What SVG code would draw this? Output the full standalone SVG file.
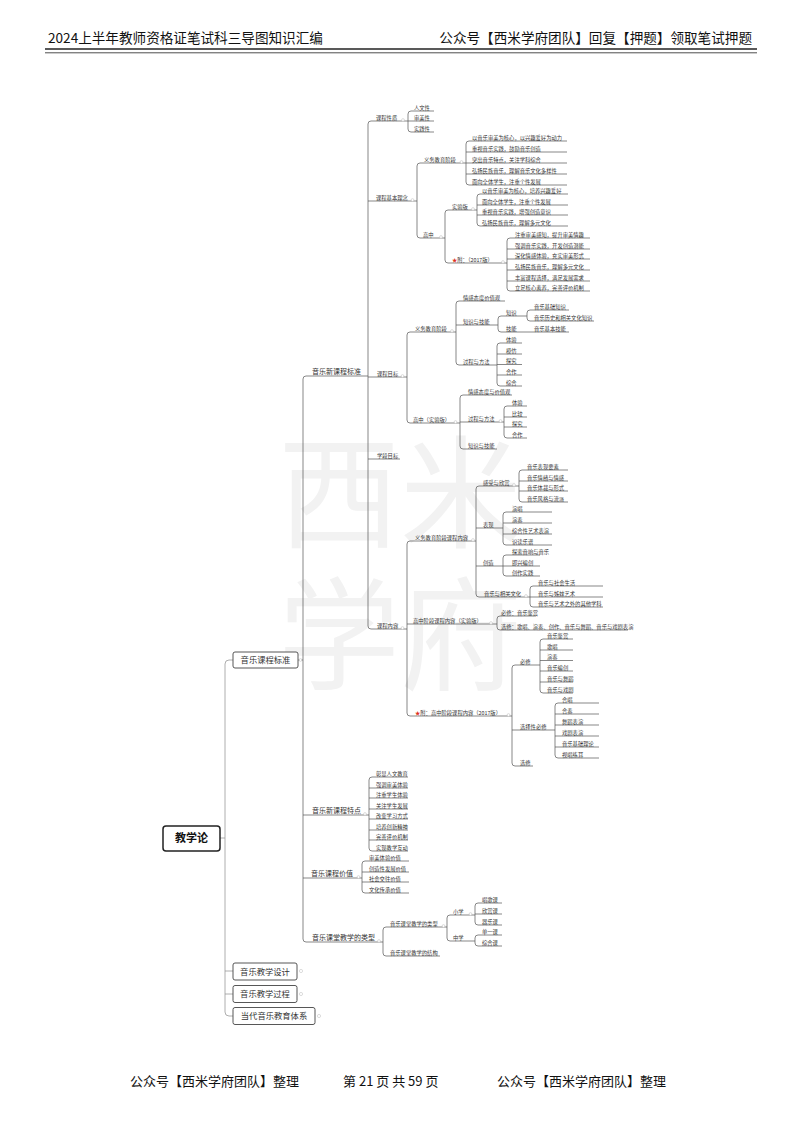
<svg xmlns="http://www.w3.org/2000/svg" width="800" height="1131" viewBox="0 0 800 1131">
<style>
text{font-family:"Noto Sans CJK SC","Noto Sans",sans-serif;fill:#333}
.t{font-size:5.3px}
.m{font-size:7px}
.b{font-size:8.3px;text-anchor:middle}
.r{font-size:11px;font-weight:bold;text-anchor:middle;fill:#111}
.h{font-size:13.6px;fill:#111}
.f{font-size:13px;fill:#111}
.w{font-size:122px;fill:#f2f2f2}
.u{stroke:#555;stroke-width:.7;fill:none}
.g{stroke:#999;stroke-width:.8;fill:none}
.k{fill:#fff;stroke:#bbb;stroke-width:.5}
.box{fill:#fff;stroke:#444;stroke-width:.9}
.star{fill:#e03020}
</style>
<rect width="800" height="1131" fill="#fff"/>
<!-- watermark -->
<g id="watermark">
<text class="w" x="278" y="538">西米</text>
<text class="w" x="278" y="680">学府</text>
</g>
<!-- header / footer -->
<g id="header">
<text class="h" x="48" y="43">2024上半年教师资格证笔试科三导图知识汇编</text>
<text class="h" x="752" y="43" text-anchor="end">公众号【西米学府团队】回复【押题】领取笔试押题</text>
<line x1="45" y1="49" x2="757" y2="49" stroke="#222" stroke-width="1.6"/>
<line x1="45" y1="52.8" x2="757" y2="52.8" stroke="#222" stroke-width=".8"/>
</g>
<g id="footer">
<text class="f" x="130" y="1086">公众号【西米学府团队】整理</text>
<text class="f" x="343" y="1086">第 21 页 共 59 页</text>
<text class="f" x="497" y="1086">公众号【西米学府团队】整理</text>
</g>

<!-- connectors -->
<g id="connectors">
<path class="g" d="M220 838 H225 M229 660 Q225 660 225 664 V1012 Q225 1016 229 1016 M229 660 H233 M225 971 H233 M225 994 H233 M229 1016 H233"/>
<path class="u" d="M298 660 H303 M306 376 Q303 376 303 379 V939 Q303 942 306 942"/>
<path class="u" d="M371 121 Q368 121 368 124 V626 Q368 629 371 629"/>
<path class="u" d="M399 121 H408 M411 111 Q408 111 408 114 V129 Q408 132 411 132"/>
<path class="u" d="M408 201 H417 M420 163 Q417 163 417 166 V235 Q417 238 420 238"/>
<path class="u" d="M458 163 H466 M469 141 Q466 141 466 144 V182 Q466 185 469 185"/>
<path class="u" d="M437 238 H445 M448 210 Q445 210 445 213 V260 Q445 263 448 263"/>
<path class="u" d="M469 210 H477 M480 194 Q477 194 477 197 V223 Q477 226 480 226"/>
<path class="u" d="M499 263 H507 M510 238 Q507 238 507 241 V288 Q507 291 510 291"/>
<path class="u" d="M398 377 H407 M410 332 Q407 332 407 335 V420 Q407 423 410 423"/>
<path class="u" d="M448 332 H456 M459 301 Q456 301 456 304 V362 Q456 365 459 365"/>
<path class="u" d="M492 325 H498 M501 316 Q498 316 498 319 V329 Q498 332 501 332"/>
<path class="u" d="M518 316 H527 M530 310 Q527 310 527 313 V318 Q527 321 530 321 M518 332 H534"/>
<path class="u" d="M492 365 H497 M500 343 Q497 343 497 346 V383 Q497 386 500 386"/>
<path class="u" d="M451 423 H460 M463 395 Q460 395 460 398 V446 Q460 449 463 449"/>
<path class="u" d="M497 422 H504 M507 406 Q504 406 504 409 V435 Q504 438 507 438"/>
<path class="u" d="M398 629 H407 M410 541 Q407 541 407 544 V713 Q407 716 410 716"/>
<path class="u" d="M470 541 H476 M479 486 Q476 486 476 489 V594 Q476 597 479 597"/>
<path class="u" d="M510 486 H519 M522 470 Q519 470 519 473 V499 Q519 502 522 502"/>
<path class="u" d="M496 528 H503 M506 512 Q503 512 503 515 V542 Q503 545 506 545"/>
<path class="u" d="M496 566 H503 M506 555 Q503 555 503 558 V573 Q503 576 506 576"/>
<path class="u" d="M522 597 H530 M533 586 Q530 586 530 589 V604 Q530 607 533 607"/>
<path class="u" d="M487 624 H497 M500 616 Q497 616 497 619 V627 Q497 630 500 630"/>
<path class="u" d="M505 716 H512 M515 665 Q512 665 512 668 V763 Q512 766 515 766"/>
<path class="u" d="M533 665 H540 M543 639 Q540 639 540 642 V690 Q540 693 543 693"/>
<path class="u" d="M548 730 H555 M558 703 Q555 703 555 706 V755 Q555 758 558 758"/>
<path class="u" d="M361 815 H369 M372 777 Q369 777 369 780 V848 Q369 851 372 851"/>
<path class="u" d="M355 878 H362 M365 861 Q362 861 362 864 V890 Q362 893 365 893"/>
<path class="u" d="M375 942 H383 M386 927 Q383 927 383 930 V953 Q383 956 386 956"/>
<path class="u" d="M440 927 H447 M450 915 Q447 915 447 918 V938 Q447 941 450 941"/>
<path class="u" d="M466 915 H475 M478 903 Q475 903 475 906 V922 Q475 925 478 925"/>
<path class="u" d="M466 941 H475 M478 935 Q475 935 475 938 V943 Q475 946 478 946"/>
</g>

<!-- root and level 1 -->
<g id="n-root"><rect x="163" y="826" width="57" height="25" rx="3" fill="#fff" stroke="#222" stroke-width="1.5"/><text class="r" x="191.5" y="842">教学论</text></g>
<g id="n-kcbz"><rect class="box" x="233" y="652" width="65" height="16" rx="2"/><text class="b" x="265.5" y="663">音乐课程标准</text></g>
<g id="n-jxsj"><rect class="box" x="233" y="963" width="64" height="17" rx="2"/><text class="b" x="265" y="974.5">音乐教学设计</text></g>
<g id="n-jxgc"><rect class="box" x="233" y="985.5" width="64" height="17" rx="2"/><text class="b" x="265" y="997">音乐教学过程</text></g>
<g id="n-jytx"><rect class="box" x="233" y="1007.5" width="82" height="17" rx="2"/><text class="b" x="274" y="1019">当代音乐教育体系</text></g>

<!-- level 2 -->
<g id="n-xkcbz"><path class="u" d="M306 376 H368"/><text class="m" x="312" y="374.2">音乐新课程标准</text></g>
<g id="n-xkctd"><path class="u" d="M303 815 H361"/><text class="m" x="312" y="813.2">音乐新课程特点</text></g>
<g id="n-kcjz"><path class="u" d="M303 878 H355"/><text class="m" x="311" y="876.2">音乐课程价值</text></g>
<g id="n-ktlx"><path class="u" d="M306 942 H375"/><text class="m" x="312" y="940.2">音乐课堂教学的类型</text></g>

<!-- 课程性质 -->
<g id="n-kcxz"><path class="u" d="M371 121 H399"/><text class="t" x="376" y="119.6">课程性质</text></g>
<g id="n-rwx"><path class="u" d="M411 111 H434"/><text class="t" x="414" y="109.6">人文性</text></g>
<g id="n-smx"><path class="u" d="M408 121 H434"/><text class="t" x="414" y="119.6">审美性</text></g>
<g id="n-sjx"><path class="u" d="M411 132 H434"/><text class="t" x="414" y="130.6">实践性</text></g>

<!-- 课程基本理念 -->
<g id="n-jbln"><path class="u" d="M368 201 H408"/><text class="t" x="376" y="199.6">课程基本理念</text></g>
<g id="n-ln-yw"><path class="u" d="M420 163 H458"/><text class="t" x="424" y="161.6">义务教育阶段</text></g>
<g id="n-ln-yw1"><path class="u" d="M469 141 H567"/><text class="t" x="472" y="139.6">以音乐审美为核心，以兴趣爱好为动力</text></g>
<g id="n-ln-yw2"><path class="u" d="M466 152 H567"/><text class="t" x="472" y="150.6">重视音乐实践，鼓励音乐创造</text></g>
<g id="n-ln-yw3"><path class="u" d="M466 163 H567"/><text class="t" x="472" y="161.6">突出音乐特点，关注学科综合</text></g>
<g id="n-ln-yw4"><path class="u" d="M466 174 H567"/><text class="t" x="472" y="172.6">弘扬民族音乐，理解音乐文化多样性</text></g>
<g id="n-ln-yw5"><path class="u" d="M469 185 H567"/><text class="t" x="472" y="183.6">面向全体学生，注重个性发展</text></g>
<g id="n-ln-gz"><path class="u" d="M420 238 H437"/><text class="t" x="423" y="236.6">高中</text></g>
<g id="n-ln-syb"><path class="u" d="M448 210 H469"/><text class="t" x="452" y="208.6">实验版</text></g>
<g id="n-ln-s1"><path class="u" d="M480 194 H568"/><text class="t" x="482" y="192.6">以音乐审美为核心，培养兴趣爱好</text></g>
<g id="n-ln-s2"><path class="u" d="M477 205 H568"/><text class="t" x="482" y="203.6">面向全体学生，注重个性发展</text></g>
<g id="n-ln-s3"><path class="u" d="M477 215 H568"/><text class="t" x="482" y="213.6">重视音乐实践，增强创造意识</text></g>
<g id="n-ln-s4"><path class="u" d="M480 226 H568"/><text class="t" x="482" y="224.6">弘扬民族音乐，理解多元文化</text></g>
<g id="n-ln-2017"><path class="u" d="M448 263 H499"/><text class="t" x="452" y="261.6"><tspan class="star">★</tspan>附：（2017版）</text></g>
<g id="n-ln-n1"><path class="u" d="M510 238 H590"/><text class="t" x="515" y="236.6">注重审美感知，提升审美情趣</text></g>
<g id="n-ln-n2"><path class="u" d="M507 249 H590"/><text class="t" x="515" y="247.6">强调音乐实践，开发创造潜能</text></g>
<g id="n-ln-n3"><path class="u" d="M507 259 H590"/><text class="t" x="515" y="257.6">深化情感体验，充实审美形式</text></g>
<g id="n-ln-n4"><path class="u" d="M507 270 H590"/><text class="t" x="515" y="268.6">弘扬民族音乐，理解多元文化</text></g>
<g id="n-ln-n5"><path class="u" d="M507 281 H590"/><text class="t" x="515" y="279.6">丰富课程选择，满足发展需求</text></g>
<g id="n-ln-n6"><path class="u" d="M510 291 H590"/><text class="t" x="515" y="289.6">立足核心素养，完善评价机制</text></g>

<!-- 课程目标 -->
<g id="n-kcmb"><path class="u" d="M368 377 H398"/><text class="t" x="377" y="375.6">课程目标</text></g>
<g id="n-mb-yw"><path class="u" d="M410 332 H448"/><text class="t" x="415" y="330.6">义务教育阶段</text></g>
<g id="n-mb-qg"><path class="u" d="M459 301 H505"/><text class="t" x="463" y="299.6">情感态度价值观</text></g>
<g id="n-mb-zj"><path class="u" d="M456 325 H492"/><text class="t" x="463" y="323.6">知识与技能</text></g>
<g id="n-mb-zs"><path class="u" d="M501 316 H518"/><text class="t" x="506" y="314.6">知识</text></g>
<g id="n-mb-zs1"><path class="u" d="M530 310 H569"/><text class="t" x="534" y="308.6">音乐基础知识</text></g>
<g id="n-mb-zs2"><path class="u" d="M530 321 H594"/><text class="t" x="534" y="319.6">音乐历史和相关文化知识</text></g>
<g id="n-mb-jn"><path class="u" d="M501 332 H518"/><text class="t" x="506" y="330.6">技能</text></g>
<g id="n-mb-jn1"><path class="u" d="M534 332 H569"/><text class="t" x="534" y="330.6">音乐基本技能</text></g>
<g id="n-mb-gc"><path class="u" d="M459 365 H492"/><text class="t" x="463" y="363.6">过程与方法</text></g>
<g id="n-mb-gc1"><path class="u" d="M500 343 H522"/><text class="t" x="506" y="341.6">体验</text></g>
<g id="n-mb-gc2"><path class="u" d="M497 354 H522"/><text class="t" x="506" y="352.6">模仿</text></g>
<g id="n-mb-gc3"><path class="u" d="M497 364.5 H522"/><text class="t" x="506" y="363.1">探究</text></g>
<g id="n-mb-gc4"><path class="u" d="M497 375 H522"/><text class="t" x="506" y="373.6">合作</text></g>
<g id="n-mb-gc5"><path class="u" d="M500 386 H522"/><text class="t" x="506" y="384.6">综合</text></g>
<g id="n-mb-gz"><path class="u" d="M410 423 H451"/><text class="t" x="413" y="421.6">高中（实验版）</text></g>
<g id="n-mb-gz1"><path class="u" d="M463 395 H512"/><text class="t" x="468" y="393.6">情感态度与价值观</text></g>
<g id="n-mb-gz2"><path class="u" d="M460 422 H497"/><text class="t" x="468" y="420.6">过程与方法</text></g>
<g id="n-mb-g1"><path class="u" d="M507 406 H527"/><text class="t" x="512" y="404.6">体验</text></g>
<g id="n-mb-g2"><path class="u" d="M504 417 H527"/><text class="t" x="512" y="415.6">比较</text></g>
<g id="n-mb-g3"><path class="u" d="M504 427 H527"/><text class="t" x="512" y="425.6">探究</text></g>
<g id="n-mb-g4"><path class="u" d="M507 438 H527"/><text class="t" x="512" y="436.6">合作</text></g>
<g id="n-mb-gz3"><path class="u" d="M463 449 H497"/><text class="t" x="468" y="447.6">知识与技能</text></g>

<!-- 学段目标 -->
<g id="n-xdmb"><path class="u" d="M368 459 H400"/><text class="t" x="377" y="457.6">学段目标</text></g>

<!-- 课程内容 -->
<g id="n-kcnr"><path class="u" d="M371 629 H398"/><text class="t" x="377" y="627.6">课程内容</text></g>
<g id="n-nr-yw"><path class="u" d="M410 541 H470"/><text class="t" x="415" y="539.6">义务教育阶段课程内容</text></g>
<g id="n-nr-gs"><path class="u" d="M479 486 H510"/><text class="t" x="483" y="484.6">感受与欣赏</text></g>
<g id="n-nr-gs1"><path class="u" d="M522 470 H568"/><text class="t" x="527" y="468.6">音乐表现要素</text></g>
<g id="n-nr-gs2"><path class="u" d="M519 481 H568"/><text class="t" x="527" y="479.6">音乐情绪与情感</text></g>
<g id="n-nr-gs3"><path class="u" d="M519 491 H568"/><text class="t" x="527" y="489.6">音乐体裁与形式</text></g>
<g id="n-nr-gs4"><path class="u" d="M522 502 H568"/><text class="t" x="527" y="500.6">音乐风格与流派</text></g>
<g id="n-nr-bx"><path class="u" d="M476 528 H496"/><text class="t" x="483" y="526.6">表现</text></g>
<g id="n-nr-bx1"><path class="u" d="M506 512 H552"/><text class="t" x="512" y="510.6">演唱</text></g>
<g id="n-nr-bx2"><path class="u" d="M503 523 H552"/><text class="t" x="512" y="521.6">演奏</text></g>
<g id="n-nr-bx3"><path class="u" d="M503 534 H552"/><text class="t" x="512" y="532.6">综合性艺术表演</text></g>
<g id="n-nr-bx4"><path class="u" d="M506 545 H552"/><text class="t" x="512" y="543.6">识读乐谱</text></g>
<g id="n-nr-cz"><path class="u" d="M476 566 H496"/><text class="t" x="483" y="564.6">创造</text></g>
<g id="n-nr-cz1"><path class="u" d="M506 555 H540"/><text class="t" x="512" y="553.6">探索音响与音乐</text></g>
<g id="n-nr-cz2"><path class="u" d="M503 566 H540"/><text class="t" x="512" y="564.6">即兴编创</text></g>
<g id="n-nr-cz3"><path class="u" d="M506 576 H540"/><text class="t" x="512" y="574.6">创作实践</text></g>
<g id="n-nr-wh"><path class="u" d="M479 597 H522"/><text class="t" x="484" y="595.6">音乐与相关文化</text></g>
<g id="n-nr-wh1"><path class="u" d="M533 586 H603"/><text class="t" x="538" y="584.6">音乐与社会生活</text></g>
<g id="n-nr-wh2"><path class="u" d="M530 597 H603"/><text class="t" x="538" y="595.6">音乐与姊妹艺术</text></g>
<g id="n-nr-wh3"><path class="u" d="M533 607 H603"/><text class="t" x="538" y="605.6">音乐与艺术之外的其他学科</text></g>
<g id="n-nr-gz"><path class="u" d="M407 624 H487"/><text class="t" x="413" y="622.6">高中阶段课程内容（实验版）</text></g>
<g id="n-nr-gz1"><path class="u" d="M500 616 H536"/><text class="t" x="501" y="614.6">必修：音乐鉴赏</text></g>
<g id="n-nr-gz2"><path class="u" d="M500 630 H628"/><text class="t" x="501" y="628.6">选修：歌唱、演奏、创作、音乐与舞蹈、音乐与戏剧表演</text></g>
<g id="n-nr-2017"><path class="u" d="M410 716 H505"/><text class="t" x="415" y="714.6"><tspan class="star">★</tspan>附：高中阶段课程内容（2017版）</text></g>
<g id="n-nr-bxiu"><path class="u" d="M515 665 H533"/><text class="t" x="520" y="663.6">必修</text></g>
<g id="n-nr-b1"><path class="u" d="M543 639 H573"/><text class="t" x="547" y="637.6">音乐鉴赏</text></g>
<g id="n-nr-b2"><path class="u" d="M540 650 H573"/><text class="t" x="547" y="648.6">歌唱</text></g>
<g id="n-nr-b3"><path class="u" d="M540 660.5 H573"/><text class="t" x="547" y="659.1">演奏</text></g>
<g id="n-nr-b4"><path class="u" d="M540 671 H573"/><text class="t" x="547" y="669.6">音乐编创</text></g>
<g id="n-nr-b5"><path class="u" d="M540 682 H573"/><text class="t" x="547" y="680.6">音乐与舞蹈</text></g>
<g id="n-nr-b6"><path class="u" d="M543 693 H573"/><text class="t" x="547" y="691.6">音乐与戏剧</text></g>
<g id="n-nr-xzbx"><path class="u" d="M512 730 H548"/><text class="t" x="520" y="728.6">选择性必修</text></g>
<g id="n-nr-x1"><path class="u" d="M558 703 H599"/><text class="t" x="562" y="701.6">合唱</text></g>
<g id="n-nr-x2"><path class="u" d="M555 714 H599"/><text class="t" x="562" y="712.6">合奏</text></g>
<g id="n-nr-x3"><path class="u" d="M555 725 H599"/><text class="t" x="562" y="723.6">舞蹈表演</text></g>
<g id="n-nr-x4"><path class="u" d="M555 736 H599"/><text class="t" x="562" y="734.6">戏剧表演</text></g>
<g id="n-nr-x5"><path class="u" d="M555 747 H599"/><text class="t" x="562" y="745.6">音乐基础理论</text></g>
<g id="n-nr-x6"><path class="u" d="M558 758 H599"/><text class="t" x="562" y="756.6">视唱练耳</text></g>
<g id="n-nr-xx"><path class="u" d="M515 766 H533"/><text class="t" x="520" y="764.6">选修</text></g>

<!-- 音乐新课程特点 -->
<g id="n-td1"><path class="u" d="M372 777 H408"/><text class="t" x="376" y="775.6">彰显人文教育</text></g>
<g id="n-td2"><path class="u" d="M369 788 H408"/><text class="t" x="376" y="786.6">强调审美体验</text></g>
<g id="n-td3"><path class="u" d="M369 798 H408"/><text class="t" x="376" y="796.6">注重学生体验</text></g>
<g id="n-td4"><path class="u" d="M369 809 H408"/><text class="t" x="376" y="807.6">关注学生发展</text></g>
<g id="n-td5"><path class="u" d="M369 819 H408"/><text class="t" x="376" y="817.6">改变学习方式</text></g>
<g id="n-td6"><path class="u" d="M369 830 H408"/><text class="t" x="376" y="828.6">培养创新精神</text></g>
<g id="n-td7"><path class="u" d="M369 840 H408"/><text class="t" x="376" y="838.6">完善评价机制</text></g>
<g id="n-td8"><path class="u" d="M372 851 H408"/><text class="t" x="376" y="849.6">实现教学互动</text></g>

<!-- 音乐课程价值 -->
<g id="n-jz1"><path class="u" d="M365 861 H409"/><text class="t" x="369" y="859.6">审美体验价值</text></g>
<g id="n-jz2"><path class="u" d="M362 872 H409"/><text class="t" x="369" y="870.6">创造性发展价值</text></g>
<g id="n-jz3"><path class="u" d="M362 882 H409"/><text class="t" x="369" y="880.6">社会交往价值</text></g>
<g id="n-jz4"><path class="u" d="M365 893 H409"/><text class="t" x="369" y="891.6">文化传承价值</text></g>

<!-- 音乐课堂教学的类型 -->
<g id="n-lx1"><path class="u" d="M386 927 H440"/><text class="t" x="390" y="925.6">音乐课堂教学的类型</text></g>
<g id="n-lx2"><path class="u" d="M386 956 H440"/><text class="t" x="390" y="954.6">音乐课堂教学的结构</text></g>
<g id="n-xx"><path class="u" d="M450 915 H466"/><text class="t" x="453" y="913.6">小学</text></g>
<g id="n-xx1"><path class="u" d="M478 903 H502"/><text class="t" x="482" y="901.6">唱歌课</text></g>
<g id="n-xx2"><path class="u" d="M475 914 H502"/><text class="t" x="482" y="912.6">欣赏课</text></g>
<g id="n-xx3"><path class="u" d="M478 925 H502"/><text class="t" x="482" y="923.6">器乐课</text></g>
<g id="n-zx"><path class="u" d="M450 941 H466"/><text class="t" x="453" y="939.6">中学</text></g>
<g id="n-zx1"><path class="u" d="M478 935 H502"/><text class="t" x="482" y="933.6">单一课</text></g>
<g id="n-zx2"><path class="u" d="M478 946 H502"/><text class="t" x="482" y="944.6">综合课</text></g>

<!-- collapse markers -->
<g id="markers">
<circle class="k" cx="301" cy="971" r="1.6"/><circle class="k" cx="301" cy="994" r="1.6"/><circle class="k" cx="319" cy="1016" r="1.6"/><circle class="k" cx="300.5" cy="660" r="1.4"/>
<circle class="k" cx="403" cy="120" r="1.4"/><circle class="k" cx="412.5" cy="200" r="1.4"/><circle class="k" cx="461.5" cy="162" r="1.4"/><circle class="k" cx="441" cy="237" r="1.4"/>
<circle class="k" cx="473" cy="209" r="1.4"/><circle class="k" cx="503" cy="262" r="1.4"/><circle class="k" cx="402.5" cy="376" r="1.4"/><circle class="k" cx="452" cy="331" r="1.4"/>
<circle class="k" cx="455.5" cy="422" r="1.4"/><circle class="k" cx="500.5" cy="421" r="1.4"/><circle class="k" cx="402.5" cy="628" r="1.4"/><circle class="k" cx="473" cy="540" r="1.4"/>
<circle class="k" cx="514" cy="485" r="1.4"/><circle class="k" cx="526" cy="596" r="1.4"/><circle class="k" cx="491" cy="623" r="1.4"/><circle class="k" cx="508.5" cy="715" r="1.4"/>
<circle class="k" cx="365" cy="814" r="1.4"/><circle class="k" cx="358.5" cy="877" r="1.4"/><circle class="k" cx="379" cy="941" r="1.4"/><circle class="k" cx="443.5" cy="926" r="1.4"/><circle class="k" cx="470.5" cy="914" r="1.4"/>
</g>
</svg>
